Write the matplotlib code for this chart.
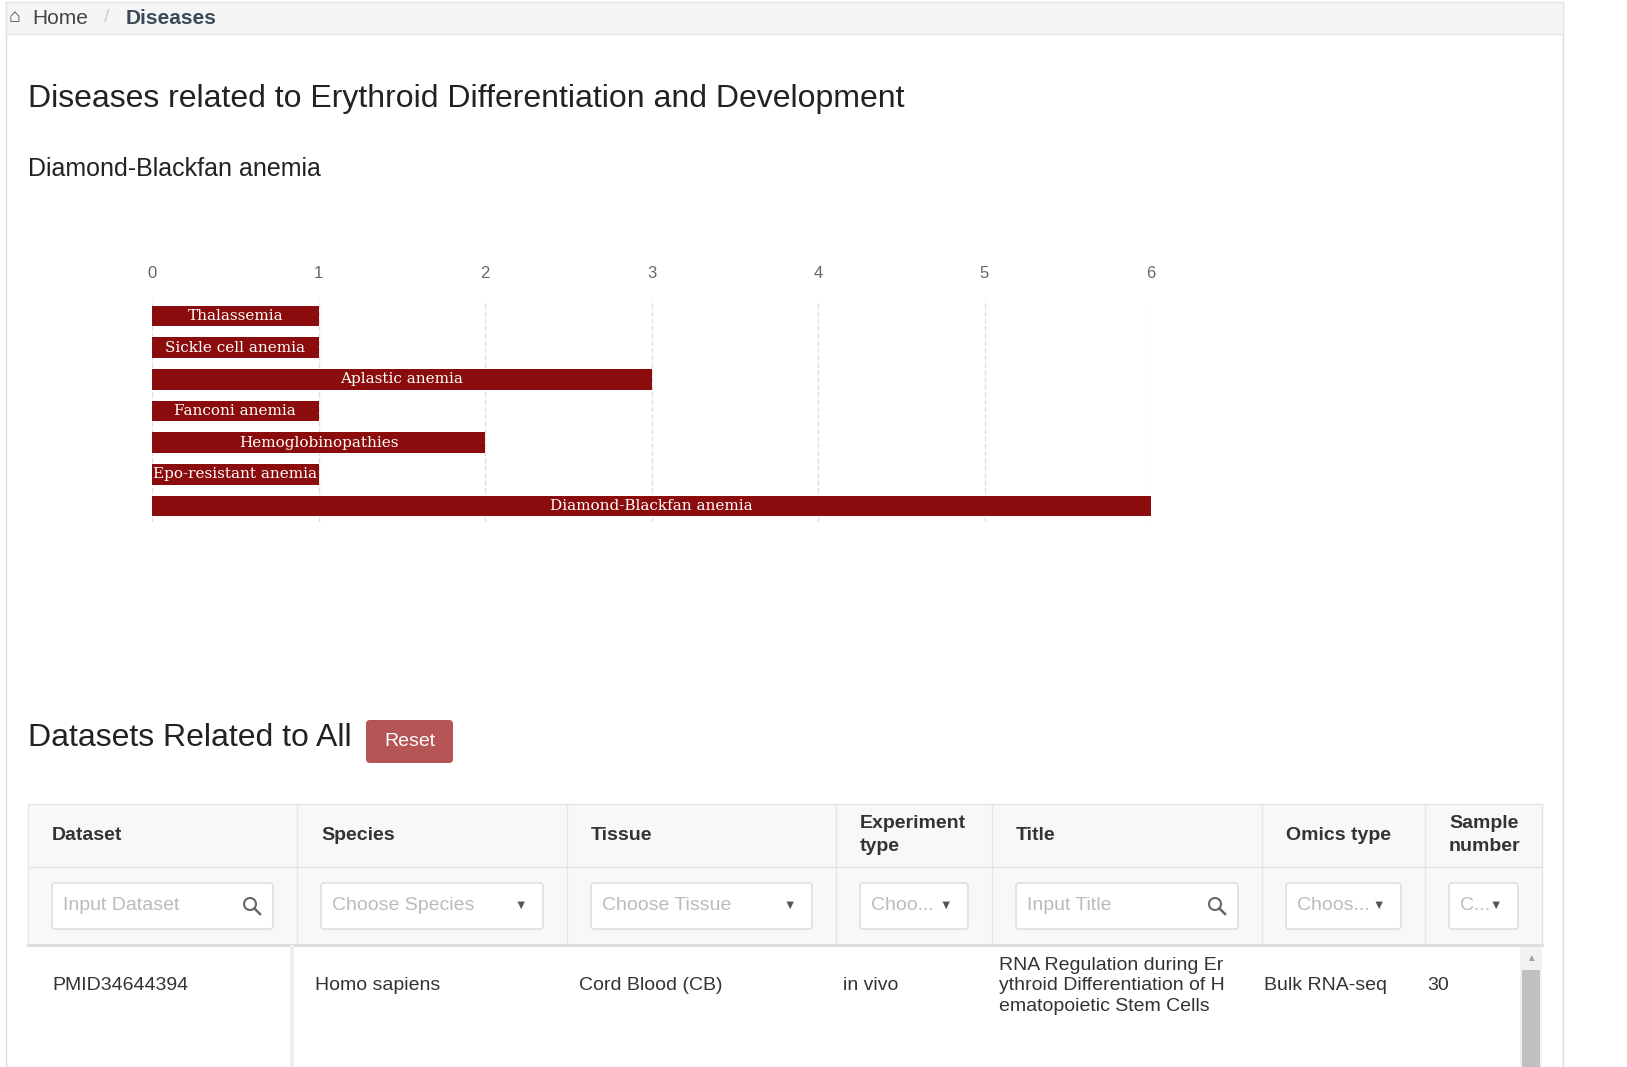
import matplotlib
matplotlib.use('Agg')
from matplotlib import pyplot as plt
from matplotlib.patches import Rectangle, FancyBboxPatch, Circle

plt.rcParams['font.family'] = ['Liberation Sans', 'DejaVu Sans']

# data
diseases = ['Thalassemia', 'Sickle cell anemia', 'Aplastic anemia', 'Fanconi anemia',
            'Hemoglobinopathies', 'Epo-resistant anemia', 'Diamond-Blackfan anemia']
counts = [1, 1, 3, 1, 2, 1, 6]
columns = ['Dataset', 'Species', 'Tissue', 'Experiment\ntype', 'Title', 'Omics type', 'Sample\nnumber']
col_edges = [28, 297, 567, 836, 992, 1262, 1425, 1542]
filters = ['Input Dataset', 'Choose Species', 'Choose Tissue', 'Choo...', 'Input Title', 'Choos...', 'C...']
filter_kind = ['search', 'drop', 'drop', 'drop', 'search', 'drop', 'drop']
row = ['PMID34644394', 'Homo sapiens', 'Cord Blood (CB)', 'in vivo',
       'RNA Regulation during Er\nythroid Differentiation of H\nematopoietic Stem Cells', 'Bulk RNA-seq', '30']

W, H = 1627, 1067
fig = plt.figure(figsize=(W / 100, H / 100), dpi=100)
bg = fig.add_axes([0, 0, 1, 1])
bg.set_xlim(0, W)
bg.set_ylim(H, 0)
bg.axis('off')

# page frame and breadcrumb
bg.add_patch(Rectangle((6, 2), 1557, 1070, fill=False, ec='#dddddd', lw=1))
bg.add_patch(Rectangle((6, 2), 1557, 32, fc='#f5f5f5', ec='#e5e5e5', lw=1))
bg.text(8, 18, '\u2302', fontsize=14, color='#444444', va='center', weight='bold')
bg.text(32, 18, 'Home', fontsize=15, color='#444444', va='center')
bg.text(104, 18, '/', fontsize=14, color='#cccccc', va='center')
bg.text(126, 18, 'Diseases', fontsize=15, color='#3a4a5a', va='center', weight='bold')

bg.text(28, 99, 'Diseases related to Erythroid Differentiation and Development', fontsize=23, color='#222222', va='center')
bg.text(28, 169, 'Diamond-Blackfan anemia', fontsize=18, color='#222222', va='center')

bg.text(28, 738, 'Datasets Related to All', fontsize=23, color='#222222', va='center')
bg.add_patch(FancyBboxPatch((366, 720), 87, 43, boxstyle='round,pad=0,rounding_size=4', fc='#b55556', ec='none'))
bg.text(409.5, 741, 'Reset', fontsize=14, color='white', va='center', ha='center')

# table
bg.add_patch(Rectangle((28, 804), 1514, 63, fc='#f8f8f8', ec='#e5e5e5', lw=1))
bg.add_patch(Rectangle((28, 867), 1514, 78, fc='#f8f8f8', ec='#e5e5e5', lw=1))
bg.plot([28, 1542], [945, 945], color='#dcdcdc', lw=2)
for x in col_edges[1:-1]:
    bg.plot([x, x], [804, 945], color='#e5e5e5', lw=1)
bg.plot([292, 292], [947, 1067], color='#eeeeee', lw=3)
for i, name in enumerate(columns):
    bg.text(col_edges[i] + 24, 835, name, fontsize=14, weight='bold', color='#333333', va='center', linespacing=1.5)
    x0, x1 = col_edges[i] + 24, col_edges[i + 1] - 24
    bg.add_patch(FancyBboxPatch((x0, 883), x1 - x0, 46, boxstyle='round,pad=0,rounding_size=3',
                                fc='white', ec='#d9d9d9', lw=1))
    bg.text(x0 + 11, 906, filters[i], fontsize=14, color='#bbbbbb', va='center')
    if filter_kind[i] == 'drop':
        bg.text(x1 - 22, 906, '\u25bc', fontsize=9, color='#555555', va='center', ha='center')
    else:
        cx, cy = x1 - 23, 904
        bg.add_patch(Circle((cx, cy), 6, fill=False, ec='#666666', lw=1.5))
        bg.plot([cx + 4.5, cx + 10], [cy + 4.5, cy + 10], color='#666666', lw=1.8)
row_x = [52, 315, 579, 843, 999, 1264, 1427]
for x, val in zip(row_x, row):
    bg.text(x, 986, val, fontsize=14, color='#333333', va='center', linespacing=1.3)
bg.add_patch(Rectangle((1520, 947), 22, 120, fc='#f1f1f1', ec='none'))
bg.add_patch(Rectangle((1522, 970), 18, 97, fc='#c1c1c1', ec='none'))
bg.text(1531, 958, '\u25b2', fontsize=7, color='#a0a0a0', ha='center', va='center')

# bar chart
ax = fig.add_axes([152 / W, 1 - 522 / H, (1151 - 152) / W, 222 / H])
y = list(range(len(diseases)))
ax.barh(y, counts, height=0.65, color='#8b0c0c')
for yi, name, c in zip(y, diseases, counts):
    ax.text(c / 2, yi, name, ha='center', va='center', color='white', fontsize=11,
            family=['DejaVu Serif'])
ax.set_xlim(0, 6)
ax.set_ylim(len(diseases) - 0.5, -0.5)
ax.xaxis.tick_top()
ax.set_xticks(range(7))
ax.tick_params(axis='x', length=0, labelsize=12, colors='#666666', pad=14)
ax.set_yticks([])
ax.grid(axis='x', color='#e0e0e0', linestyle='--', lw=1)
ax.set_axisbelow(True)
for s in ax.spines.values():
    s.set_visible(False)

fig.savefig('out.png', dpi=100, facecolor='white')
